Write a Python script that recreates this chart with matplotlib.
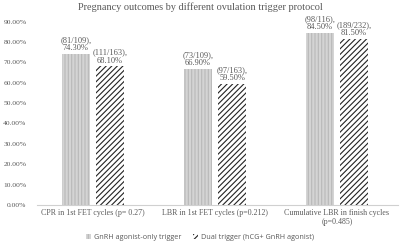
import matplotlib
matplotlib.use("Agg")
import matplotlib.pyplot as plt
import matplotlib.ticker as mticker
import numpy as np

plt.rcParams['hatch.linewidth'] = 0.8

categories = ["CPR in 1st FET cycles (p= 0.27)",
              "LBR in 1st FET cycles (p=0.212)",
              "Cumulative LBR in finish cycles\n(p=0.485)"]
series_names = ["GnRH agonist-only trigger", "Dual trigger (hCG+ GnRH agonist)"]
gnrh_values = [0.743, 0.669, 0.845]
dual_values = [0.681, 0.595, 0.815]
gnrh_labels = ["(81/109),\n74.30%", "(73/109),\n66.90%", "(98/116),\n84.50%"]
dual_labels = ["(111/163),\n68.10%", "(97/163),\n59.50%", "(189/232),\n81.50%"]

gray = "#595959"
fig = plt.figure(figsize=(4.0, 2.46), dpi=100)
ax = fig.add_axes([0.08, 0.167, 0.915, 0.745])

x = np.arange(len(categories))
w = 0.225
off = 0.14
b1 = ax.bar(x - off, gnrh_values, w, facecolor="#d4d4d4", edgecolor="#b8b8b8",
            hatch="|||||", linewidth=0)
b2 = ax.bar(x + off, dual_values, w, facecolor="white", edgecolor="#222222",
            hatch="//////", linewidth=0)

serif = "Liberation Serif"
for xi, v, lab in zip(x - off, gnrh_values, gnrh_labels):
    ax.text(xi, v + 0.008, lab, ha="center", va="bottom", fontsize=6.0,
            family=serif, color=gray, linespacing=1.05)
for xi, v, lab in zip(x + off, dual_values, dual_labels):
    ax.text(xi, v + 0.008, lab, ha="center", va="bottom", fontsize=6.0,
            family=serif, color=gray, linespacing=1.05)

ax.set_xlim(-0.5, 2.5)
ax.set_ylim(0, 0.9)
ax.set_yticks(np.arange(0, 0.91, 0.1))
ax.yaxis.set_major_formatter(mticker.FuncFormatter(lambda v, p: f"{v*100:.2f}%"))
ax.set_xticks(x)
ax.set_xticklabels(categories, family=serif, fontsize=5.7, color=gray, linespacing=1.15)
for t in ax.get_yticklabels():
    t.set_family(serif); t.set_fontsize(5.4); t.set_color(gray)
ax.tick_params(axis="both", length=0, pad=3)
ax.tick_params(axis="y", pad=4)
for s in ["top", "right", "left"]:
    ax.spines[s].set_visible(False)
ax.spines["bottom"].set_color("#d0d0d0")
ax.spines["bottom"].set_linewidth(0.8)
ax.spines["bottom"].set_bounds(-0.46, 2.5)

fig.suptitle("Pregnancy outcomes by different ovulation trigger protocol",
             family=serif, fontsize=7.4, color=gray, y=0.99)

leg = fig.legend([b1, b2], series_names, loc="lower center", ncol=2,
                 bbox_to_anchor=(0.5, -0.005), frameon=False,
                 prop={"family": "Open Sans", "size": 5.2},
                 handlelength=0.7, handleheight=0.7, columnspacing=1.6,
                 handletextpad=0.4)
for t in leg.get_texts():
    t.set_color(gray)

fig.savefig("out.png", dpi=100)
